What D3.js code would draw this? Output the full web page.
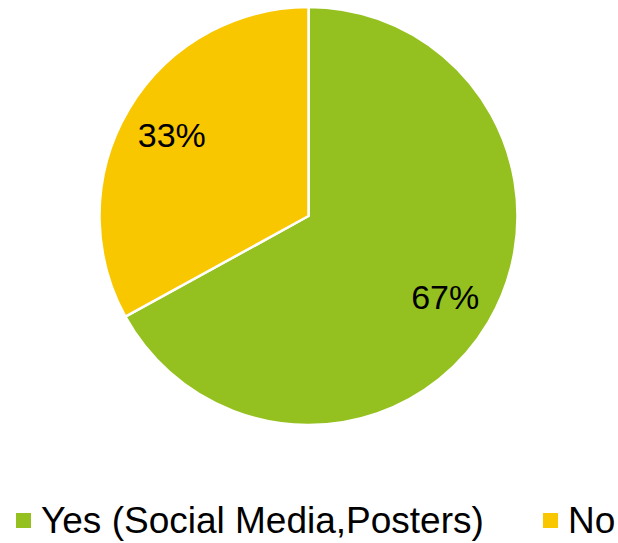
<!DOCTYPE html>
<html>
<head>
<meta charset="utf-8">
<script src="https://cdn.jsdelivr.net/npm/d3@7"></script>
<style>
  html, body { margin: 0; padding: 0; background: #fff; }
  svg { display: block; font-family: "Liberation Sans", Arial, sans-serif; }
</style>
</head>
<body>
<svg id="chart" width="618" height="543"></svg>
<script>
// Survey answers and their shares (percent)
const categories = ["Yes (Social Media,Posters)", "No"];
const shares = [67, 33];
const labels = ["67%", "33%"];
const colors = ["#94C11F", "#F9C700"];

const svg = d3.select("#chart");
const cx = 308.5, cy = 216, radius = 209;

const data = categories.map((c, i) => ({ category: c, value: shares[i], label: labels[i] }));

const pie = d3.pie().value(d => d.value).sort(null);
const arc = d3.arc().innerRadius(0).outerRadius(radius);
const labelArc = d3.arc().innerRadius(radius * 0.76).outerRadius(radius * 0.76);
const color = d3.scaleOrdinal().domain(categories).range(colors);

const g = svg.append("g").attr("transform", `translate(${cx},${cy})`);
const arcs = pie(data);

g.selectAll("path.slice")
  .data(arcs)
  .join("path")
  .attr("class", "slice")
  .attr("d", arc)
  .attr("fill", d => color(d.data.category))
  .attr("stroke", "#fff")
  .attr("stroke-width", 2.5)
  .attr("stroke-linejoin", "round");

g.selectAll("text.pct")
  .data(arcs)
  .join("text")
  .attr("class", "pct")
  .attr("x", d => labelArc.centroid(d)[0])
  .attr("y", d => labelArc.centroid(d)[1])
  .attr("dy", "0.36em")
  .attr("text-anchor", "middle")
  .attr("font-size", 34)
  .attr("fill", "#000")
  .text(d => d.data.label);

// Legend along the bottom
const legendX = d3.scaleOrdinal().domain(categories).range([16, 543]);
const legend = svg.append("g");
const items = legend.selectAll("g.item")
  .data(categories)
  .join("g")
  .attr("class", "item")
  .attr("transform", d => `translate(${legendX(d)},513)`);

items.append("rect")
  .attr("width", 15)
  .attr("height", 15)
  .attr("fill", d => color(d));

items.append("text")
  .attr("x", 25)
  .attr("y", 20)
  .attr("font-size", 37)
  .attr("fill", "#000")
  .text(d => d);
</script>
</body>
</html>
